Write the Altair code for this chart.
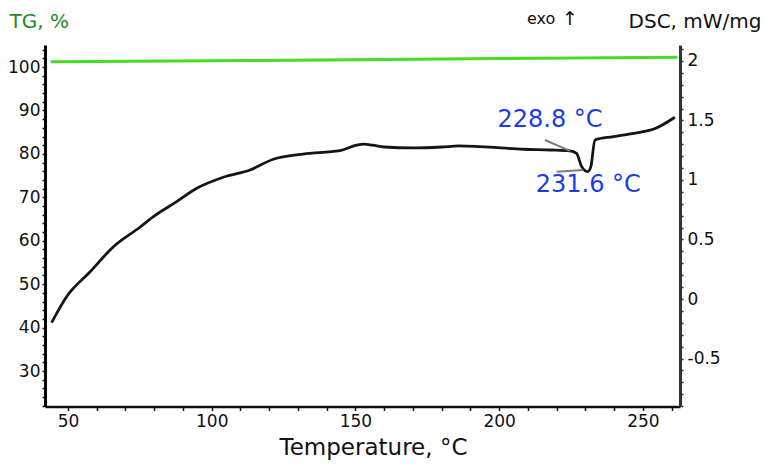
import altair as alt
import pandas as pd

# ---- data ----
dsc_temp = [44.3, 49.5, 57.7, 65.8, 75.0, 79.7, 87.8, 94.8, 104.0, 113.3, 121.4, 131.8,
            144.6, 150.0, 153.0, 156.0, 160.0, 170.0, 180.0, 186.0, 193.3, 208.4, 218.0,
            224.6, 226.9, 228.7, 230.8, 231.9, 233.3, 239.7, 250.1, 253.6, 261.1]
dsc_val = [-0.199, 0.019, 0.229, 0.439, 0.603, 0.692, 0.818, 0.930, 1.023, 1.084, 1.174, 1.218,
           1.246, 1.290, 1.302, 1.292, 1.277, 1.269, 1.277, 1.286, 1.280, 1.258, 1.252,
           1.244, 1.224, 1.112, 1.070, 1.112, 1.336, 1.364, 1.406, 1.426, 1.527]

tg_temp = [44.0, 100.0, 150.0, 200.0, 262.0]
tg_val = [101.2, 101.45, 101.7, 101.95, 102.25]

tangent_id = ["a", "a", "b", "b"]
tangent_temp = [215.9, 224.6, 220.0, 229.2]
tangent_val = [1.336, 1.244, 1.070, 1.084]

ann_text = ["228.8 °C", "231.6 °C"]
ann_temp = [217.7, 231.0]
ann_val = [1.445, 0.899]

x_ticks = list(range(50, 261, 10))
tg_ticks = list(range(22, 105, 2))
dsc_ticks = [round(i / 10, 1) for i in range(-9, 22)]

FONT = "DejaVu Sans"
GREEN_TXT = "#1e8c1e"
GREEN_LINE = "#44dd22"
BLUE = "#1c3ce6"

dsc_df = pd.DataFrame({"T": dsc_temp, "DSC": dsc_val})
tg_df = pd.DataFrame({"T": tg_temp, "TG": tg_val})
tan_df = pd.DataFrame({"id": tangent_id, "T": tangent_temp, "DSC": tangent_val})
ann_df = pd.DataFrame({"label": ann_text, "T": ann_temp, "DSC": ann_val})
exo_df = pd.DataFrame({"label": ["exo"]})
arrow_df = pd.DataFrame({"label": ["↑"]})

x_axis = alt.Axis(
    values=x_ticks,
    format="d",
    labelExpr="datum.value % 50 == 0 ? datum.label : ''",
    labelOverlap=False,
    grid=False,
    tickSize=4, tickColor="#111", tickWidth=1.5,
    domainColor="#111", domainWidth=2.5,
    labelFont=FONT, labelFontSize=17, labelColor="#111", labelPadding=3,
    title="Temperature, °C",
    titleFont=FONT, titleFontSize=23, titleFontWeight="normal", titleColor="#111",
    titleX=328, titleY=48, titleAlign="center", titleBaseline="alphabetic", titleAnchor="start",
)
x_enc = alt.X("T:Q", scale=alt.Scale(domain=[42.0, 262.9], nice=False, zero=False), axis=x_axis)

tg_axis = alt.Axis(
    orient="left",
    values=tg_ticks,
    format="d",
    labelExpr="datum.value % 10 == 0 && datum.value >= 30 ? datum.label : ''",
    labelOverlap=False,
    grid=False,
    tickSize=3, tickColor="#111", tickWidth=1.5,
    domainColor="#000", domainWidth=3,
    labelFont=FONT, labelFontSize=17, labelColor="#111", labelPadding=2,
    title="TG, %",
    titleFont=FONT, titleFontSize=20, titleFontWeight="normal", titleColor=GREEN_TXT,
    titleAngle=0, titleX=-36, titleY=-18, titleAlign="left", titleBaseline="alphabetic",
)

dsc_axis = alt.Axis(
    orient="right",
    values=dsc_ticks,
    labelExpr="abs(datum.value * 2 - round(datum.value * 2)) < 0.001 ? toString(round(datum.value * 10) / 10) : ''",
    labelOverlap=False,
    grid=False,
    tickSize=3, tickColor="#333", tickWidth=1.5,
    domainColor="#333", domainWidth=3,
    labelFont=FONT, labelFontSize=17, labelColor="#111", labelPadding=4,
    title="DSC, mW/mg",
    titleFont=FONT, titleFontSize=20, titleFontWeight="normal", titleColor="#111",
    titleAngle=0, titleX=81, titleY=-18, titleAlign="right", titleBaseline="alphabetic",
)
dsc_scale = alt.Scale(domain=[-0.903, 2.134], nice=False, zero=False)
y_dsc = alt.Y("DSC:Q", scale=dsc_scale, axis=dsc_axis)

tg_line = alt.Chart(tg_df).mark_line(color=GREEN_LINE, strokeWidth=3).encode(
    x=x_enc,
    y=alt.Y("TG:Q", scale=alt.Scale(domain=[21.83, 105.07], nice=False, zero=False), axis=tg_axis),
)

dsc_line = alt.Chart(dsc_df).mark_line(
    color="#151515", strokeWidth=2.8, interpolate="monotone"
).encode(x=x_enc, y=y_dsc)
tan_lines = alt.Chart(tan_df).mark_line(color="#7a7a7a", strokeWidth=2).encode(
    x=x_enc, y=y_dsc, detail="id:N"
)
ann = alt.Chart(ann_df).mark_text(
    font=FONT, fontSize=24, color=BLUE, align="center", baseline="alphabetic"
).encode(x=x_enc, y=y_dsc, text="label:N")

exo = alt.Chart(exo_df).mark_text(
    font=FONT, fontSize=16, color="#111", align="left", baseline="alphabetic"
).encode(x=alt.value(482), y=alt.value(-21), text="label:N")
arrow = alt.Chart(arrow_df).mark_text(
    font=FONT, fontSize=19, color="#111", align="left", baseline="alphabetic"
).encode(x=alt.value(517), y=alt.value(-20), text="label:N")

dsc_layer = alt.layer(dsc_line, tan_lines, ann)

chart = (
    alt.layer(tg_line, dsc_layer, exo, arrow)
    .resolve_scale(y="independent")
    .properties(
        width=635,
        height=361.5,
        autosize=alt.AutoSizeParams(type="none"),
        padding={"left": 37, "top": 37, "right": 82, "bottom": 53},
    )
    .configure_view(stroke=None)
)

chart.save("out.html", embed_options={"renderer": "svg", "actions": False})
